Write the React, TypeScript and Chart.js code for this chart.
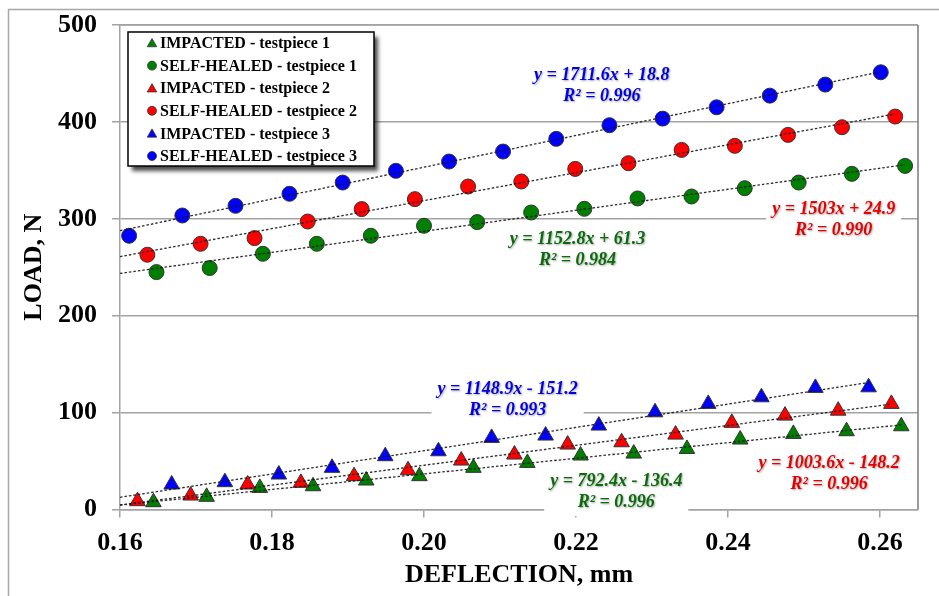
import React, { useEffect, useRef } from 'react';
import { Chart, registerables } from 'chart.js';

Chart.register(...registerables);

// ---------- DATA ----------
const seriesLabels = [
  'IMPACTED - testpiece 1',
  'SELF-HEALED - testpiece 1',
  'IMPACTED - testpiece 2',
  'SELF-HEALED - testpiece 2',
  'IMPACTED - testpiece 3',
  'SELF-HEALED - testpiece 3',
];

const impacted1X = [0.1644, 0.1714, 0.1784, 0.1854, 0.1924, 0.1994, 0.2065, 0.2136, 0.2206, 0.2276, 0.2346, 0.2416, 0.2486, 0.2556, 0.2628];
const impacted1Y = [7.5, 13.1, 22.3, 24, 29.9, 34.4, 43, 48.1, 55.7, 57.7, 62.5, 72.2, 78, 80.8, 85.9];

const healed1X = [0.1648, 0.1718, 0.1788, 0.1859, 0.193, 0.2, 0.207, 0.2141, 0.2211, 0.2281, 0.2352, 0.2422, 0.2493, 0.2563, 0.2633];
const healed1Y = [245, 249.2, 263.9, 274.2, 282.5, 292.8, 296.6, 306.5, 310.3, 321, 323, 331.6, 337.4, 346.4, 354.6];

const impacted2X = [0.1623, 0.1693, 0.1768, 0.1838, 0.1908, 0.1979, 0.2049, 0.2119, 0.2189, 0.226, 0.2331, 0.2405, 0.2475, 0.2545, 0.2615];
const impacted2Y = [8.6, 14.4, 25.8, 27.5, 34.4, 40.5, 50.5, 56.7, 67, 69.4, 77.3, 89.4, 96.9, 102, 109];

const healed2X = [0.1636, 0.1706, 0.1777, 0.1847, 0.1918, 0.1988, 0.2058, 0.2128, 0.2199, 0.2269, 0.2339, 0.2409, 0.2479, 0.255, 0.262];
const healed2Y = [262.9, 274.2, 280.1, 297.2, 310, 320.3, 333.3, 338.5, 351.5, 357.4, 371.1, 375.3, 386.6, 394.5, 405.5];

const impacted3X = [0.1668, 0.1738, 0.1809, 0.1879, 0.1949, 0.2019, 0.2089, 0.216, 0.223, 0.2304, 0.2374, 0.2444, 0.2515, 0.2585];
const impacted3Y = [25.8, 28.2, 36.1, 43, 55, 60.1, 73.9, 76.3, 86.6, 100.3, 109, 115.8, 125.5, 126.1];

const healed3X = [0.1612, 0.1682, 0.1752, 0.1823, 0.1893, 0.1963, 0.2033, 0.2104, 0.2174, 0.2244, 0.2314, 0.2385, 0.2455, 0.2528, 0.2601];
const healed3Y = [282.5, 303.4, 313.4, 325.8, 337.4, 349.5, 359.1, 369.4, 382.5, 396.6, 403.4, 415.1, 427.1, 438.5, 451.2];

const equationLabels = [
  'y = 792.4x - 136.4',
  'y = 1152.8x + 61.3',
  'y = 1003.6x - 148.2',
  'y = 1503x + 24.9',
  'y = 1148.9x - 151.2',
  'y = 1711.6x + 18.8',
];
const r2Labels = ['R² = 0.996', 'R² = 0.984', 'R² = 0.996', 'R² = 0.990', 'R² = 0.993', 'R² = 0.996'];

const xTickMin = 0.16;
const xTickMax = 0.265;
const xTickStep = 0.02;
const yTickMin = 0;
const yTickMax = 500;
const yTickStep = 100;
const xTitle = 'DEFLECTION, mm';
const yTitle = 'LOAD, N';

// ---------- STYLE / LAYOUT ----------
const seriesX = [impacted1X, healed1X, impacted2X, healed2X, impacted3X, healed3X];
const seriesY = [impacted1Y, healed1Y, impacted2Y, healed2Y, impacted3Y, healed3Y];
const seriesColors = ['#008000', '#008000', '#ff0000', '#ff0000', '#0000ff', '#0000ff'];
const labelColors = ['#0b6b0b', '#0b6b0b', '#e60000', '#e60000', '#0000e6', '#0000e6'];
const seriesMarkers = ['triangle', 'circle', 'triangle', 'circle', 'triangle', 'circle'];
// label anchor (center of the two-line block) in data units
const labelAnchorX = [0.2253, 0.2202, 0.2533, 0.2539, 0.211, 0.2234];
const labelAnchorY = [18.1, 268.3, 37.2, 298.8, 113, 436.7];

const FONT = "'Liberation Serif', 'Times New Roman', serif";
const GRID = '#a3a3a3';

function linearFit(xs: number[], ys: number[]) {
  const n = xs.length;
  let sx = 0, sy = 0, sxx = 0, sxy = 0;
  for (let i = 0; i < n; i++) {
    sx += xs[i]; sy += ys[i]; sxx += xs[i] * xs[i]; sxy += xs[i] * ys[i];
  }
  const m = (n * sxy - sx * sy) / (n * sxx - sx * sx);
  const b = (sy - m * sx) / n;
  return { m, b };
}

const framePlugin = {
  id: 'frame',
  beforeDatasetsDraw(chart: any) {
    const { ctx, chartArea } = chart;
    ctx.save();
    ctx.strokeStyle = '#a8a8a8';
    ctx.lineWidth = 1.5;
    ctx.beginPath();
    ctx.moveTo(8.5, 596);
    ctx.lineTo(8.5, 9.5);
    ctx.lineTo(939, 9.5);
    ctx.stroke();
    ctx.strokeStyle = GRID;
    ctx.beginPath();
    ctx.moveTo(chartArea.left, chartArea.top);
    ctx.lineTo(chartArea.right, chartArea.top);
    ctx.stroke();
    ctx.strokeStyle = '#7a7a7a';
    ctx.beginPath();
    ctx.moveTo(chartArea.right, chartArea.top);
    ctx.lineTo(chartArea.right, chartArea.bottom);
    ctx.stroke();
    ctx.restore();
  },
};

function drawMarker(ctx: CanvasRenderingContext2D, style: string, x: number, y: number, r: number) {
  ctx.beginPath();
  if (style === 'circle') {
    ctx.arc(x, y, r, 0, Math.PI * 2);
  } else {
    ctx.moveTo(x, y - r);
    ctx.lineTo(x + r * Math.sin((2 * Math.PI) / 3), y - r * Math.cos((2 * Math.PI) / 3));
    ctx.lineTo(x + r * Math.sin((4 * Math.PI) / 3), y - r * Math.cos((4 * Math.PI) / 3));
    ctx.closePath();
  }
  ctx.fill();
  ctx.stroke();
}

const overlayPlugin = {
  id: 'overlay',
  afterDatasetsDraw(chart: any) {
    const { ctx } = chart;
    const xs = chart.scales.x;
    const ys = chart.scales.y;
    ctx.save();
    ctx.font = `italic bold 18px ${FONT}`;
    ctx.textAlign = 'center';
    ctx.textBaseline = 'middle';
    const gap = 21;
    for (let i = 0; i < equationLabels.length; i++) {
      const cx = xs.getPixelForValue(labelAnchorX[i]);
      const cy = ys.getPixelForValue(labelAnchorY[i]);
      const w = Math.max(ctx.measureText(equationLabels[i]).width, ctx.measureText(r2Labels[i]).width) + 12;
      const h = gap * 2 + 6;
      ctx.fillStyle = '#ffffff';
      ctx.fillRect(cx - w / 2, cy - h / 2, w, h);
      ctx.shadowColor = 'rgba(0,0,0,0.35)';
      ctx.shadowBlur = 2;
      ctx.shadowOffsetX = 1;
      ctx.shadowOffsetY = 1;
      ctx.fillStyle = labelColors[i];
      ctx.fillText(equationLabels[i], cx, cy - gap / 2);
      ctx.fillText(r2Labels[i], cx, cy + gap / 2);
      ctx.shadowColor = 'transparent';
      ctx.shadowBlur = 0;
      ctx.shadowOffsetX = 0;
      ctx.shadowOffsetY = 0;
    }

    const lx = 128, ly = 32, lw = 246, lh = 134;
    ctx.shadowColor = 'rgba(0,0,0,0.7)';
    ctx.shadowBlur = 4;
    ctx.shadowOffsetX = 4;
    ctx.shadowOffsetY = 5;
    ctx.fillStyle = '#ffffff';
    ctx.fillRect(lx, ly, lw, lh);
    ctx.shadowColor = 'transparent';
    ctx.shadowBlur = 0;
    ctx.shadowOffsetX = 0;
    ctx.shadowOffsetY = 0;
    ctx.strokeStyle = '#000000';
    ctx.lineWidth = 1.5;
    ctx.strokeRect(lx, ly, lw, lh);

    ctx.font = `bold 16px ${FONT}`;
    ctx.textAlign = 'left';
    ctx.textBaseline = 'middle';
    for (let i = 0; i < seriesLabels.length; i++) {
      const rowY = 43 + i * 22.6;
      ctx.fillStyle = seriesColors[i];
      ctx.strokeStyle = '#333';
      ctx.lineWidth = 0.8;
      drawMarker(ctx, seriesMarkers[i], 152, seriesMarkers[i] === 'circle' ? rowY : rowY + 1, seriesMarkers[i] === 'circle' ? 4.5 : 5.5);
      ctx.fillStyle = '#000';
      ctx.fillText(seriesLabels[i], 160, rowY + 1);
    }
    ctx.restore();
  },
};

export default function App() {
  const canvasRef = useRef<HTMLCanvasElement | null>(null);

  useEffect(() => {
    if (!canvasRef.current) return;
    const datasets: any[] = [];
    for (let i = 0; i < seriesLabels.length; i++) {
      const tri = seriesMarkers[i] === 'triangle';
      datasets.push({
        label: seriesLabels[i],
        data: seriesX[i].map((x, j) => ({ x, y: seriesY[i][j] })),
        pointStyle: seriesMarkers[i],
        pointRadius: tri ? 9 : 7.5,
        pointBackgroundColor: seriesColors[i],
        pointBorderColor: '#333333',
        pointBorderWidth: 1,
        backgroundColor: seriesColors[i],
        borderColor: '#333333',
        showLine: false,
        order: 10 - i,
      });
    }
    for (let i = 0; i < seriesLabels.length; i++) {
      const { m, b } = linearFit(seriesX[i], seriesY[i]);
      const x0 = xTickMin;
      const x1 = seriesX[i][seriesX[i].length - 1];
      datasets.push({
        label: 'trend ' + i,
        data: [
          { x: x0, y: m * x0 + b },
          { x: x1, y: m * x1 + b },
        ],
        showLine: true,
        pointRadius: 0,
        borderColor: 'rgba(20,20,20,0.9)',
        borderWidth: 1.3,
        borderDash: [2.5, 2],
        fill: false,
        order: 0,
      });
    }

    const chart = new Chart(canvasRef.current, {
      type: 'scatter',
      data: { datasets },
      options: {
        animation: false,
        responsive: false,
        devicePixelRatio: 1,
        layout: { padding: { left: 8, top: 25, right: 21, bottom: 0 } },
        plugins: {
          legend: { display: false },
          tooltip: { enabled: false },
        },
        scales: {
          x: {
            type: 'linear',
            min: xTickMin,
            max: xTickMax,
            afterFit: (s: any) => { s.height = 86.5; },
            ticks: {
              stepSize: xTickStep,
              includeBounds: false,
              padding: 10,
              color: '#000',
              font: { family: FONT, size: 26, weight: 'bold' },
              callback: (v: any) => Number(v).toFixed(2),
            },
            grid: { drawOnChartArea: false, drawTicks: true, tickLength: 8, color: GRID, lineWidth: 1.5 },
            border: { color: GRID, width: 1.5 },
            title: {
              display: true,
              text: xTitle,
              color: '#000',
              font: { family: FONT, size: 26, weight: 'bold' },
              padding: { top: 0, bottom: 5 },
            },
          },
          y: {
            type: 'linear',
            min: yTickMin,
            max: yTickMax,
            afterFit: (s: any) => { s.width = 112; s.paddingTop = 0; s.paddingBottom = 0; },
            ticks: {
              stepSize: yTickStep,
              padding: 15,
              color: '#000',
              font: { family: FONT, size: 26, weight: 'bold' },
            },
            grid: { color: GRID, lineWidth: 1.5, tickLength: 8 },
            border: { color: GRID, width: 1.5 },
            title: {
              display: true,
              text: yTitle,
              color: '#000',
              font: { family: FONT, size: 26, weight: 'bold' },
              padding: { top: 11, bottom: 0 },
            },
          },
        },
      },
      plugins: [framePlugin, overlayPlugin],
    } as any);

    return () => chart.destroy();
  }, []);

  return (
    <div style={{ position: 'fixed', left: 0, top: 0, width: 939, height: 596, background: '#fff' }}>
      <canvas ref={canvasRef} width={939} height={596} style={{ display: 'block' }} />
    </div>
  );
}
